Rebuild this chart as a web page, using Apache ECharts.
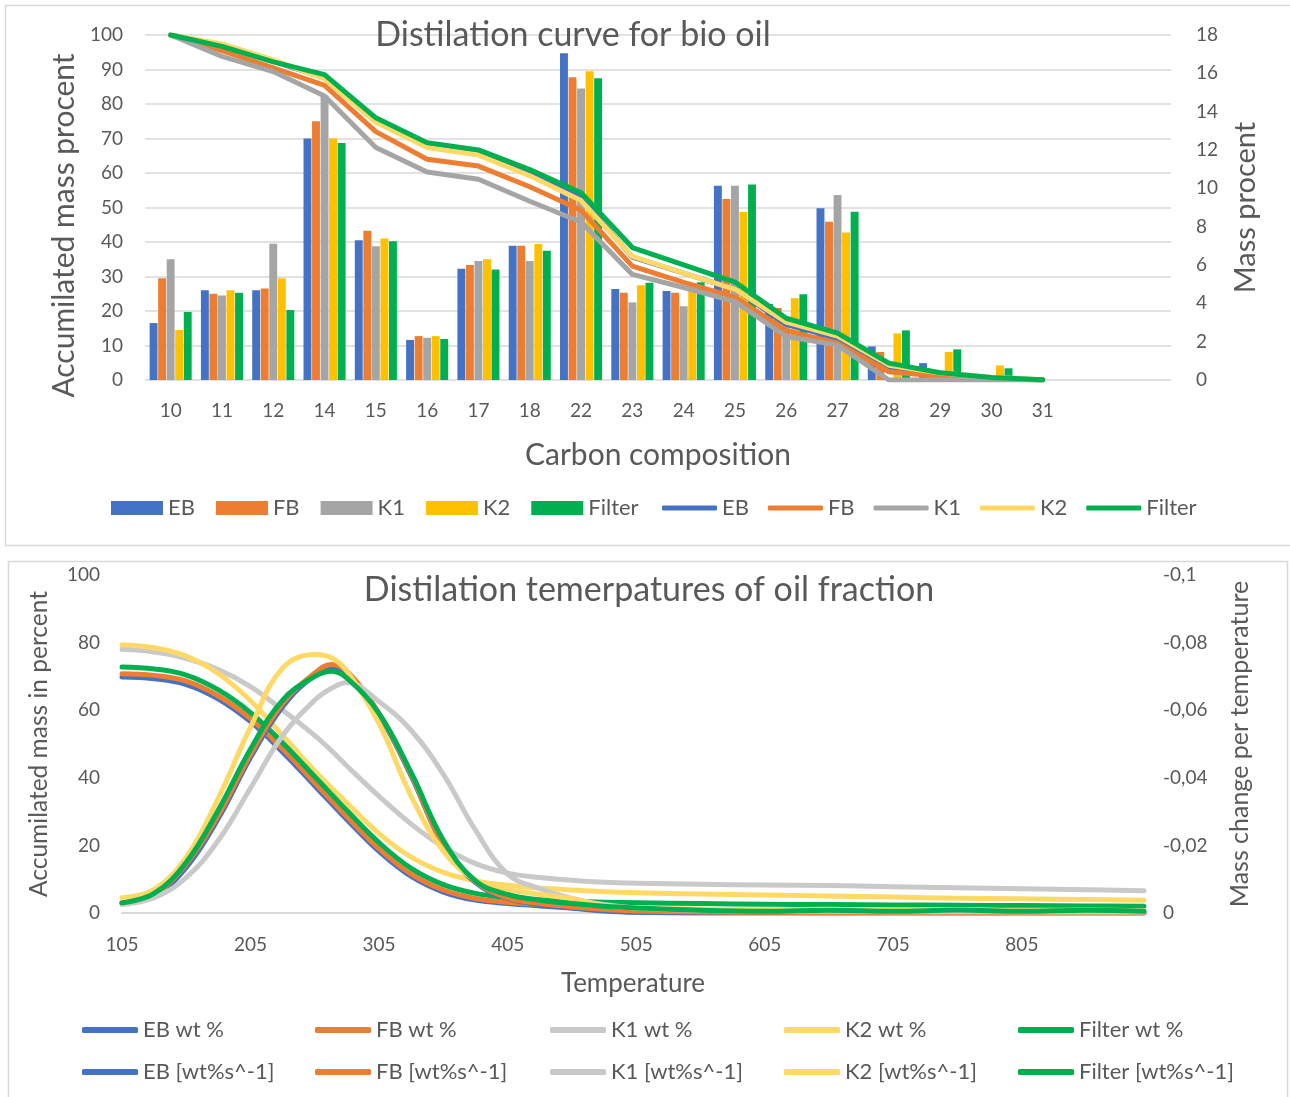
<!DOCTYPE html>
<html>
<head>
<meta charset="utf-8">
<script src="https://cdn.jsdelivr.net/npm/echarts@6/dist/echarts.min.js"></script>
<style>
  html, body { margin: 0; padding: 0; background: #ffffff; }
  #chart { width: 1290px; height: 1097px; }
</style>
</head>
<body>
<div id="chart"></div>
<script>
// ---- Distillation curve for bio oil (carbon number) ----
const carbonLabels = ['10', '11', '12', '14', '15', '16', '17', '18', '22', '23', '24', '25', '26', '27', '28', '29', '30', '31', '', ''];

// mass percent per carbon number (right axis)
const massEB     = [2.97, 4.68, 4.68, 12.6, 7.29, 2.09, 5.8, 7.0, 17.05, 4.75, 4.64, 10.13, 3.96, 8.96, 1.75, 0.88, 0.1, 0];
const massFB     = [5.31, 4.5, 4.77, 13.5, 7.79, 2.29, 6.0, 7.0, 15.79, 4.55, 4.55, 9.45, 3.76, 8.26, 1.46, 0.35, 0.15, 0];
const massK1     = [6.3, 4.41, 7.11, 14.85, 6.98, 2.2, 6.21, 6.21, 15.21, 4.05, 3.85, 10.13, 2.9, 9.65, 0, 0, 0, 0];
const massK2     = [2.61, 4.68, 5.31, 12.6, 7.38, 2.29, 6.3, 7.09, 16.11, 4.95, 4.9, 8.77, 4.27, 7.69, 2.43, 1.46, 0.76, 0];
const massFilter = [3.55, 4.55, 3.65, 12.37, 7.24, 2.14, 5.76, 6.75, 15.75, 5.08, 5.1, 10.2, 4.48, 8.78, 2.59, 1.6, 0.61, 0];

// accumulated mass percent (left axis)
const accEB     = [100, 97, 92.4, 87.5, 75, 67.6, 65.5, 59.7, 52.8, 35.6, 31, 26.3, 16.1, 12.1, 3.2, 1.5, 0.5, 0];
const accFB     = [100, 95.5, 90.5, 85.4, 72, 64, 62, 56, 49.2, 33, 28.3, 24, 14.3, 10.7, 2.4, 1.1, 0.5, 0];
const accK1     = [100, 93.8, 89.4, 82.3, 67.4, 60.3, 58.2, 51.8, 45.8, 30.6, 26.8, 22.7, 12.6, 10.1, 0, 0, 0, 0];
const accK2     = [100, 97.4, 92.8, 87.3, 74.7, 67.4, 65.2, 59.2, 52, 35.8, 31, 26.3, 16.8, 12.7, 4.3, 2, 0.8, 0.1];
const accFilter = [100, 96.7, 92.2, 88.5, 76, 68.8, 66.7, 61, 54.3, 38.4, 33.4, 28.4, 17.9, 13.6, 4.9, 2.1, 0.7, 0.1];

// ---- Distillation temperatures of oil fraction ----
const temps = [105, 130, 155, 180, 205, 230, 255, 268, 280, 305, 330, 355, 380, 405, 430, 455, 480, 505, 555, 605, 655, 705, 755, 805, 855, 900];
const tempTickLabels = [105, 205, 305, 405, 505, 605, 705, 805];

// accumulated mass in percent (left axis)
const wtEB     = [69.8, 69.3, 67.6, 63.3, 56.6, 47.6, 37.6, 32.4, 27.6, 18.2, 10.8, 6.2, 3.8, 2.8, 2.1, 1.5, 0.8, 0.3, 0, 0, 0, 0, 0, 0, 0, 0];
const wtFB     = [70.8, 70.3, 68.6, 64.2, 57.5, 48.5, 38.5, 33.3, 28.5, 19.0, 11.5, 6.8, 4.3, 3.2, 2.5, 1.9, 1.3, 0.8, 0.4, 0.3, 0.2, 0.2, 0.1, 0.1, 0.1, 0.1];
const wtK1     = [78.0, 77.2, 75.3, 72.0, 67.0, 60.0, 52.5, 48.0, 43.5, 34.5, 26.3, 19.5, 14.6, 11.8, 10.5, 9.7, 9.1, 8.8, 8.5, 8.3, 8.1, 7.8, 7.5, 7.2, 6.9, 6.6];
const wtK2     = [79.3, 78.5, 76.0, 70.8, 62.8, 52.5, 42.0, 37.0, 32.5, 23.5, 16.5, 12.0, 9.5, 8.2, 7.4, 6.8, 6.3, 6.0, 5.6, 5.3, 5.0, 4.7, 4.4, 4.2, 4.0, 3.8];
const wtFilter = [72.8, 72.2, 70.4, 66.0, 59.3, 50.3, 40.3, 35.1, 30.3, 20.8, 13.2, 8.4, 5.8, 4.6, 3.9, 3.5, 3.2, 3.0, 2.8, 2.6, 2.5, 2.4, 2.3, 2.2, 2.1, 2.0];

// mass change per temperature (right axis, negative values)
const rateEB     = [-0.0028, -0.005, -0.0135, -0.028, -0.046, -0.061, -0.0705, -0.0725, -0.0705, -0.0585, -0.0405, -0.02, -0.009, -0.0043, -0.0025, -0.0015, -0.0006, -0.0002, 0, 0, 0, 0, 0, 0, 0, 0];
const rateFB     = [-0.003, -0.0055, -0.0145, -0.029, -0.047, -0.062, -0.071, -0.0735, -0.0715, -0.059, -0.041, -0.02, -0.0093, -0.0045, -0.0028, -0.0018, -0.001, -0.0006, -0.0003, -0.0002, -0.0001, -0.0001, -0.0001, -0.0001, -0.0001, -0.0001];
const rateK1     = [-0.0025, -0.0045, -0.0105, -0.0215, -0.037, -0.0525, -0.063, -0.0665, -0.0682, -0.0625, -0.054, -0.041, -0.0245, -0.0115, -0.0072, -0.0043, -0.0025, -0.0015, -0.0008, -0.0005, -0.0005, -0.0004, -0.0004, -0.0003, -0.0003, -0.0003];
const rateK2     = [-0.0045, -0.007, -0.0165, -0.034, -0.055, -0.0725, -0.0765, -0.0755, -0.0715, -0.056, -0.0345, -0.0183, -0.0098, -0.007, -0.0055, -0.0042, -0.0022, -0.0015, -0.0012, -0.001, -0.0011, -0.0008, -0.001, -0.0008, -0.0009, -0.0007];
const rateFilter = [-0.003, -0.0058, -0.015, -0.0305, -0.0485, -0.063, -0.07, -0.0715, -0.0695, -0.059, -0.0415, -0.0215, -0.0095, -0.0055, -0.0038, -0.0028, -0.002, -0.0015, -0.0008, -0.0005, -0.0008, -0.0005, -0.0009, -0.0005, -0.0008, -0.0005];

const FONT = 'Lato, "Open Sans", sans-serif';
const TEXT = '#595959';
const GRID_LINE = '#D9D9D9';
const C_EB = '#4472C4', C_FB = '#ED7D31', C_K1 = '#A5A5A5', C_K1_LIGHT = '#C9C9C9', C_K2 = '#FFC000', C_K2_LIGHT = '#FFD966', C_FILTER = '#00B050';

function barSeries(name, data, color) {
  return {
    name: name, type: 'bar', xAxisIndex: 0, yAxisIndex: 1, data: data,
    itemStyle: { color: color }, barCategoryGap: '18%', barGap: '8%', z: 2
  };
}
function accLine(name, data, color) {
  return {
    name: name, type: 'line', xAxisIndex: 0, yAxisIndex: 0, data: data,
    symbol: 'none', lineStyle: { color: color, width: 5, cap: 'round', join: 'round' },
    itemStyle: { color: color }, z: 3
  };
}
function tempLine(name, values, color, yIdx) {
  return {
    name: name, type: 'line', xAxisIndex: 1, yAxisIndex: yIdx,
    data: temps.map((t, i) => [t, values[i]]),
    smooth: 0.4, symbol: 'none',
    lineStyle: { color: color, width: 5, cap: 'round', join: 'round' },
    itemStyle: { color: color }
  };
}
const commaNum = v => (Math.abs(v) < 1e-9 ? '0' : String(+v.toFixed(2)).replace('.', ','));

const chart = echarts.init(document.getElementById('chart'), null, { renderer: 'canvas' });

const legendText = { color: TEXT, fontSize: 22, fontFamily: FONT };
const tempLegend = (left, names) => ({
  left: left, top: 1019, orient: 'vertical', itemGap: 20, padding: 0,
  icon: 'roundRect', itemWidth: 56, itemHeight: 6,
  textStyle: legendText, data: names, selectedMode: false
});

chart.setOption({
  animation: false,
  backgroundColor: '#ffffff',
  textStyle: { fontFamily: FONT },
  graphic: [
    { type: 'rect', shape: { x: 5.5, y: 5.5, width: 1290, height: 540 }, style: { fill: 'none', stroke: GRID_LINE, lineWidth: 1.5 }, silent: true },
    { type: 'rect', shape: { x: 8.5, y: 561.5, width: 1279, height: 560 }, style: { fill: 'none', stroke: GRID_LINE, lineWidth: 1.5 }, silent: true },
    { type: 'text', x: 573, y: 35, style: { text: 'Distilation curve for bio oil', fill: TEXT, font: '34px ' + FONT, textAlign: 'center', textVerticalAlign: 'middle' }, z: 10 },
    { type: 'text', x: 649, y: 590, style: { text: 'Distilation temerpatures of oil fraction', fill: TEXT, font: '34px ' + FONT, textAlign: 'center', textVerticalAlign: 'middle' }, z: 10 }
  ],
  legend: [
    {
      left: 111, top: 497, padding: 0, itemWidth: 52, itemHeight: 14, itemGap: 21, icon: 'rect',
      textStyle: legendText, selectedMode: false,
      data: ['EB', 'FB', 'K1', 'K2', 'Filter']
    },
    {
      left: 662, top: 497, padding: 0, itemWidth: 55, itemHeight: 5, itemGap: 19, icon: 'roundRect',
      textStyle: legendText, selectedMode: false,
      formatter: n => n.replace(' line', ''),
      data: ['EB line', 'FB line', 'K1 line', 'K2 line', 'Filter line']
    },
    tempLegend(82, ['EB wt %', 'EB [wt%s^-1]']),
    tempLegend(315, ['FB wt %', 'FB [wt%s^-1]']),
    tempLegend(550, ['K1 wt %', 'K1 [wt%s^-1]']),
    tempLegend(784, ['K2 wt %', 'K2 [wt%s^-1]']),
    tempLegend(1018, ['Filter wt %', 'Filter [wt%s^-1]'])
  ],
  grid: [
    { left: 145, top: 35, width: 1026, height: 345 },
    { left: 122, top: 575, width: 1022, height: 338 }
  ],
  xAxis: [
    {
      type: 'category', gridIndex: 0, data: carbonLabels,
      axisTick: { show: false }, axisLine: { show: false },
      axisLabel: { color: TEXT, fontSize: 19, margin: 21, interval: 0 },
      name: 'Carbon composition', nameLocation: 'middle', nameGap: 60,
      nameTextStyle: { color: TEXT, fontSize: 30 }
    },
    {
      type: 'value', gridIndex: 1, min: 105, max: 900,
      axisTick: { show: false }, splitLine: { show: false },
      axisLine: { show: true, lineStyle: { color: GRID_LINE, width: 2 } },
      axisLabel: { color: TEXT, fontSize: 19, margin: 22, customValues: tempTickLabels },
      name: 'Temperature', nameLocation: 'middle', nameGap: 58,
      nameTextStyle: { color: TEXT, fontSize: 26 }
    }
  ],
  yAxis: [
    {
      type: 'value', gridIndex: 0, min: 0, max: 100, interval: 10,
      axisLine: { show: false }, axisTick: { show: false },
      splitLine: { show: true, lineStyle: { color: GRID_LINE, width: 1.5 } },
      axisLabel: { color: TEXT, fontSize: 19, margin: 22 },
      name: 'Accumilated mass procent', nameLocation: 'middle', nameGap: 64, nameRotate: 90,
      nameTextStyle: { color: TEXT, fontSize: 30, padding: [0, 36, 0, 0] }
    },
    {
      type: 'value', gridIndex: 0, position: 'right', min: 0, max: 18, interval: 2,
      axisLine: { show: false }, axisTick: { show: false }, splitLine: { show: false },
      axisLabel: { color: TEXT, fontSize: 19, margin: 25 },
      name: 'Mass procent', nameLocation: 'middle', nameGap: 60, nameRotate: 90,
      nameTextStyle: { color: TEXT, fontSize: 29 }
    },
    {
      type: 'value', gridIndex: 1, min: 0, max: 100, interval: 20,
      axisLine: { show: false }, axisTick: { show: false }, splitLine: { show: false },
      axisLabel: { color: TEXT, fontSize: 19, margin: 22 },
      name: 'Accumilated mass in percent', nameLocation: 'middle', nameGap: 70, nameRotate: 90,
      nameTextStyle: { color: TEXT, fontSize: 24.5 }
    },
    {
      type: 'value', gridIndex: 1, position: 'right', min: -0.1, max: 0, interval: 0.02, inverse: true,
      axisLine: { show: false }, axisTick: { show: false }, splitLine: { show: false },
      axisLabel: { color: TEXT, fontSize: 19, margin: 19, formatter: commaNum },
      name: 'Mass change per temperature', nameLocation: 'middle', nameGap: 83, nameRotate: 90,
      nameTextStyle: { color: TEXT, fontSize: 25 }
    }
  ],
  series: [
    barSeries('EB', massEB, C_EB),
    barSeries('FB', massFB, C_FB),
    barSeries('K1', massK1, C_K1),
    barSeries('K2', massK2, C_K2),
    barSeries('Filter', massFilter, C_FILTER),
    accLine('EB line', accEB, C_EB),
    accLine('FB line', accFB, C_FB),
    accLine('K1 line', accK1, C_K1),
    accLine('K2 line', accK2, C_K2_LIGHT),
    accLine('Filter line', accFilter, C_FILTER),
    tempLine('EB wt %', wtEB, C_EB, 2),
    tempLine('FB wt %', wtFB, C_FB, 2),
    tempLine('K1 wt %', wtK1, C_K1_LIGHT, 2),
    tempLine('K2 wt %', wtK2, C_K2_LIGHT, 2),
    tempLine('Filter wt %', wtFilter, C_FILTER, 2),
    tempLine('EB [wt%s^-1]', rateEB, C_EB, 3),
    tempLine('FB [wt%s^-1]', rateFB, C_FB, 3),
    tempLine('K1 [wt%s^-1]', rateK1, C_K1_LIGHT, 3),
    tempLine('K2 [wt%s^-1]', rateK2, C_K2_LIGHT, 3),
    tempLine('Filter [wt%s^-1]', rateFilter, C_FILTER, 3)
  ]
});
</script>
</body>
</html>
